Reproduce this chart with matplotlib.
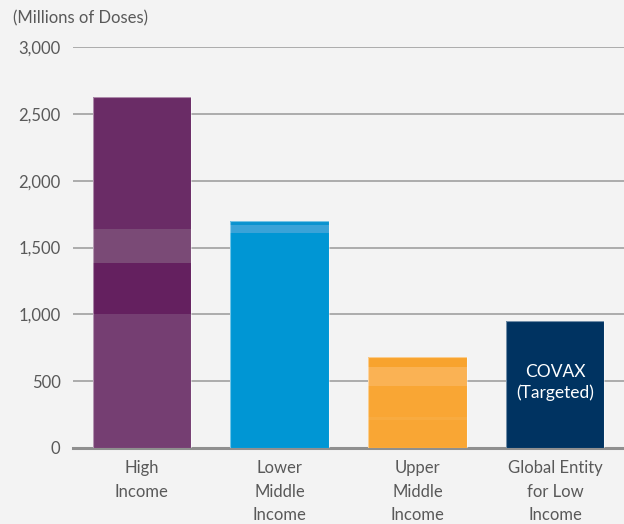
import matplotlib
matplotlib.use('Agg')
import matplotlib.pyplot as plt
import numpy as np

# data (millions of doses)
categories = ["High\nIncome", "Lower\nMiddle\nIncome", "Upper\nMiddle\nIncome", "Global Entity\nfor Low\nIncome"]
high_income = [1000, 385, 255, 985]
lower_middle = [1610, 60, 30]
upper_middle = [210, 22, 232, 142, 77]
global_entity = [952]
yticks = [0, 500, 1000, 1500, 2000, 2500, 3000]

segments = [high_income, lower_middle, upper_middle, global_entity]
seg_colors = [
    ["#753e72", "#64205f", "#7a4a76", "#6a2c66"],
    ["#0096d4", "#3aa3d8", "#0b93cf"],
    ["#f9a634", "#f8ab40", "#f9a634", "#fab254", "#f8a32e"],
    ["#003361"],
]

bg = "#f3f3f3"
txt = "#595959"
plt.rcParams['font.family'] = ['Lato', 'DejaVu Sans']

fig = plt.figure(figsize=(6.24, 5.24), dpi=100, facecolor=bg)
ax = fig.add_axes([73 / 624, 76 / 524, 551 / 624, 401 / 524], facecolor=bg)

x = np.arange(len(categories))
width = 0.715

for i, segs in enumerate(segments):
    bottom = 0
    for v, c in zip(segs, seg_colors[i]):
        ax.bar(x[i], v, width, bottom=bottom, color=c, linewidth=0, zorder=2)
        bottom += v
    ax.bar(x[i], bottom, width, fill=False, edgecolor=(1, 1, 1, 0.45), linewidth=0.8, zorder=3)

ax.text(x[3], global_entity[0] / 2 + 15, "COVAX\n(Targeted)", color="white", ha="center", va="center",
        fontsize=12.5, linespacing=1.3, zorder=4)

ax.set_ylim(0, 3000)
ax.set_xlim(-0.5, 3.5)
ax.set_yticks(yticks)
ax.set_yticklabels([f"{t:,}" for t in yticks])
ax.set_xticks(x)
ax.set_xticklabels(categories, linespacing=1.6, va="top")
ax.tick_params(axis="y", length=0, pad=9, labelsize=12, labelcolor=txt)
ax.tick_params(axis="x", length=0, pad=8.5, labelsize=12, labelcolor=txt)
for s in ax.spines.values():
    s.set_visible(False)

ax.yaxis.grid(True, color="#a6a6a6", linewidth=1.3, zorder=0)
ax.set_axisbelow(True)
ax.axhline(0, color="#8f8f8f", linewidth=2.2, zorder=1, clip_on=False)

fig.text(13 / 624, 1 - 18 / 524, "(Millions of Doses)", color=txt, fontsize=12, ha="left", va="center")

fig.savefig("out.png", dpi=100, facecolor=bg)
